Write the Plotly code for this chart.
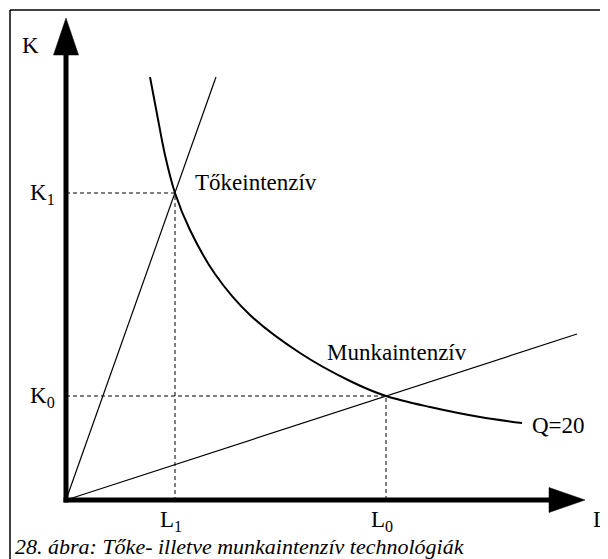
import plotly.graph_objects as go

# isoquant Q=20 (L, K)
isoquant_l = [8.4, 9.1, 9.9, 10.9, 12.4, 14.9, 18.4, 23.4, 28.4, 32.0, 36.4, 41.4, 45.6]
isoquant_k = [42.3, 38.6, 34.5, 30.7, 27.0, 22.6, 18.5, 14.7, 11.9, 10.4, 9.3, 8.3, 7.7]

# technology rays from the origin
capital_ray_l = [0, 15.0]
capital_ray_k = [0, 42.3]
labour_ray_l = [0, 51.1]
labour_ray_k = [0, 16.6]

# chosen input combinations
l_values = [10.9, 32.0]  # L1, L0
k_values = [30.7, 10.4]  # K1, K0
l_labels = ["L<sub>1</sub>", "L<sub>0</sub>"]
k_labels = ["K<sub>1</sub>", "K<sub>0</sub>"]

FONT = "Liberation Serif, Times New Roman, serif"
# the page body keeps an 8px margin, so the figure is drawn 8px smaller
W, H = 600, 551
OFF = 8

fig = go.Figure()

# dashed guides
for lv, kv in zip(l_values, k_values):
    fig.add_trace(go.Scatter(
        x=[0, lv, lv], y=[kv, kv, 0], mode="lines",
        line=dict(color="black", width=1, dash="4px,3px"), hoverinfo="skip",
    ))

fig.add_trace(go.Scatter(x=capital_ray_l, y=capital_ray_k, mode="lines",
                         line=dict(color="black", width=1.2), hoverinfo="skip"))
fig.add_trace(go.Scatter(x=labour_ray_l, y=labour_ray_k, mode="lines",
                         line=dict(color="black", width=1.2), hoverinfo="skip"))
fig.add_trace(go.Scatter(x=isoquant_l, y=isoquant_k, mode="lines",
                         line=dict(color="black", width=2, shape="spline", smoothing=0.9),
                         hoverinfo="skip"))

# axes with arrowheads
frame_x = (10 - OFF) / W
frame_y = 1 - (10 - OFF) / H
shapes = [
    dict(type="line", x0=0, y0=-0.25, x1=0, y1=44.6, line=dict(color="black", width=5)),
    dict(type="line", x0=-0.25, y0=0, x1=48.4, y1=0, line=dict(color="black", width=5)),
    dict(type="path", path="M -1.25 44.5 L 1.25 44.5 L 0 48.2 Z",
         fillcolor="black", line=dict(color="black", width=0.5)),
    dict(type="path", path="M 48.3 -1.25 L 48.3 1.25 L 51.9 0 Z",
         fillcolor="black", line=dict(color="black", width=0.5)),
    # frame
    dict(type="line", xref="paper", yref="paper", x0=frame_x, y0=frame_y, x1=1, y1=frame_y,
         line=dict(color="black", width=1.5)),
    dict(type="line", xref="paper", yref="paper", x0=frame_x, y0=frame_y, x1=frame_x, y1=0,
         line=dict(color="black", width=1.5)),
]

txt = dict(family=FONT, size=23, color="black")
annotations = [
    dict(x=-3.6, y=45.5, text="K", showarrow=False, font=txt),
    dict(x=53.4, y=-1.9, text="L", showarrow=False, font=txt),
    dict(x=12.7, y=31.8, text="Tőkeintenzív", xanchor="left", showarrow=False, font=txt),
    dict(x=25.9, y=14.8, text="Munkaintenzív", xanchor="left", showarrow=False, font=txt),
    dict(x=46.4, y=7.5, text="Q=20", xanchor="left", showarrow=False, font=txt),
    dict(x=(13 - OFF) / W, y=1 - (546 - OFF) / H, xref="paper", yref="paper",
         xanchor="left", yanchor="middle",
         text="<i>28. ábra: Tőke- illetve munkaintenzív technológiák</i>",
         showarrow=False, font=dict(family=FONT, size=22, color="black")),
]
for lv, lab in zip(l_values, l_labels):
    annotations.append(dict(x=lv - 0.4, y=-2.1, text=lab, showarrow=False, font=txt))
for kv, lab in zip(k_values, k_labels):
    annotations.append(dict(x=-0.9, y=kv - 0.1, text=lab, xanchor="right",
                            showarrow=False, font=txt))

fig.update_layout(
    width=W, height=H,
    margin=dict(l=0, r=0, t=0, b=0),
    paper_bgcolor="white", plot_bgcolor="white",
    showlegend=False,
    shapes=shapes,
    annotations=annotations,
    xaxis=dict(range=[-5.8, 54.2], visible=False, fixedrange=True),
    yaxis=dict(range=[-5.9, 49.2], visible=False, fixedrange=True),
)

fig.write_html("out.html")
